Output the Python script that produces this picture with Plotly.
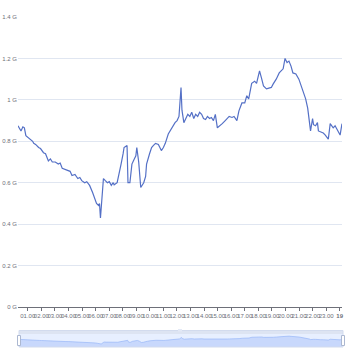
import plotly.graph_objects as go

# Monthly-ish readings (decimal year) and values in G
years = [
    2000.28, 2000.50, 2000.64, 2000.75, 2000.86, 2001.00, 2001.22, 2001.36, 2001.44, 2001.58,
    2001.80, 2001.94, 2002.16, 2002.31, 2002.52, 2002.67, 2002.81, 2003.03, 2003.25, 2003.39,
    2003.54, 2003.75, 2003.97, 2004.12, 2004.26, 2004.48, 2004.69, 2004.84, 2004.98, 2005.20,
    2005.35, 2005.56, 2005.78, 2005.93, 2006.07, 2006.22, 2006.29, 2006.36, 2006.51, 2006.58,
    2006.72, 2006.87, 2007.01, 2007.16, 2007.30, 2007.37, 2007.59, 2007.74, 2007.88, 2008.03,
    2008.10, 2008.32, 2008.39, 2008.53, 2008.68, 2008.82, 2008.97, 2009.04, 2009.18, 2009.33,
    2009.47, 2009.55, 2009.69, 2009.76, 2009.98, 2010.13, 2010.27, 2010.42, 2010.63, 2010.78,
    2010.85, 2011.00, 2011.14, 2011.36, 2011.57, 2011.72, 2011.86, 2012.01, 2012.15, 2012.30,
    2012.37, 2012.51, 2012.66, 2012.80, 2012.95, 2013.09, 2013.24, 2013.38, 2013.53, 2013.67,
    2013.82, 2013.96, 2014.11, 2014.25, 2014.40, 2014.54, 2014.69, 2014.83, 2014.98, 2015.19,
    2015.34, 2015.56, 2015.70, 2015.85, 2016.06, 2016.21, 2016.42, 2016.57, 2016.79, 2017.00,
    2017.15, 2017.29, 2017.51, 2017.73, 2017.87, 2018.09, 2018.23, 2018.38, 2018.60, 2018.81,
    2018.96, 2019.10, 2019.32, 2019.54, 2019.68, 2019.83, 2019.97, 2020.12, 2020.26, 2020.41,
    2020.55, 2020.77, 2020.99, 2021.13, 2021.27, 2021.49, 2021.64, 2021.78, 2021.85, 2022.00,
    2022.07, 2022.22, 2022.36, 2022.43, 2022.58, 2022.79, 2022.94, 2023.08, 2023.16, 2023.30,
    2023.45, 2023.52, 2023.66, 2023.88, 2024.03, 2024.17,
]
values_g = [
    0.875, 0.850, 0.870, 0.865, 0.827, 0.820, 0.810, 0.800, 0.790, 0.785,
    0.770, 0.765, 0.745, 0.740, 0.705, 0.715, 0.700, 0.700, 0.690, 0.695,
    0.670, 0.665, 0.660, 0.655, 0.635, 0.640, 0.620, 0.625, 0.610, 0.600,
    0.605, 0.587, 0.553, 0.530, 0.500, 0.490, 0.500, 0.430, 0.570, 0.620,
    0.610, 0.600, 0.605, 0.587, 0.600, 0.590, 0.600, 0.640, 0.690, 0.740,
    0.770, 0.780, 0.600, 0.600, 0.690, 0.710, 0.730, 0.770, 0.700, 0.577,
    0.590, 0.600, 0.630, 0.690, 0.740, 0.770, 0.780, 0.790, 0.785, 0.760,
    0.755, 0.770, 0.790, 0.835, 0.860, 0.875, 0.890, 0.900, 0.920, 1.060,
    0.950, 0.890, 0.910, 0.930, 0.920, 0.940, 0.910, 0.930, 0.920, 0.940,
    0.930, 0.910, 0.905, 0.920, 0.910, 0.915, 0.900, 0.930, 0.865, 0.875,
    0.885, 0.900, 0.910, 0.920, 0.915, 0.920, 0.900, 0.947, 0.985, 0.985,
    1.020, 1.005, 1.080, 1.090, 1.080, 1.140, 1.106, 1.067, 1.053, 1.058,
    1.060, 1.077, 1.100, 1.130, 1.140, 1.150, 1.200, 1.180, 1.187, 1.163,
    1.130, 1.125, 1.100, 1.070, 1.043, 1.005, 0.960, 0.900, 0.850, 0.910,
    0.880, 0.875, 0.890, 0.850, 0.845, 0.840, 0.830, 0.820, 0.810, 0.885,
    0.870, 0.865, 0.875, 0.850, 0.830, 0.885,
]

x_tick_vals = list(range(2001, 2025))
x_tick_text = ["%02d.00" % (v - 2000) for v in range(2001, 2024)] + ["<b>19</b>"]
y_tick_vals = [0, 0.2, 0.4, 0.6, 0.8, 1.0, 1.2, 1.4]
y_tick_text = ["0 G", "0.2 G", "0.4 G", "0.6 G", "0.8 G", "1 G", "1.2 G", "1.4 G"]

W, H = 350, 350
ML, MR, MT, MB = 18, 8, 17, 3
PW, PH = W - ML - MR, H - MT - MB


def px_x(p):
    return (p - ML) / PW


def px_y(p):
    return (H - MB - p) / PH


axis_grey = "#6e7079"
font = dict(family="Liberation Sans, sans-serif", size=6, color=axis_grey)

fig = go.Figure()
fig.add_trace(go.Scatter(
    x=years, y=values_g, mode="lines",
    line=dict(color="#5470c6", width=1.2),
    xaxis="x", yaxis="y", hoverinfo="skip", showlegend=False,
))
# miniature of the series inside the zoom slider
fig.add_trace(go.Scatter(
    x=years, y=values_g, mode="lines", fill="tozeroy",
    line=dict(color="#8fb0f7", width=0.6),
    fillcolor="rgba(143,176,247,0.35)",
    xaxis="x2", yaxis="y2", hoverinfo="skip", showlegend=False,
))

SL, SR = ML + 1, W - MR + 1  # slider left / right edges in pixels
shapes = [
    # slider body
    dict(type="rect", xref="paper", yref="paper",
         x0=px_x(SL), x1=px_x(SR), y0=px_y(347), y1=px_y(334),
         fillcolor="rgba(135,175,255,0.2)", line=dict(width=0), layer="below"),
    # move handle strip
    dict(type="rect", xref="paper", yref="paper",
         x0=px_x(SL), x1=px_x(SR), y0=px_y(334), y1=px_y(330.5),
         fillcolor="rgba(210,219,238,0.75)", line=dict(width=0), layer="below"),
    # slider border
    dict(type="rect", xref="paper", yref="paper",
         x0=px_x(SL), x1=px_x(SR), y0=px_y(347), y1=px_y(330.5),
         fillcolor="rgba(0,0,0,0)", line=dict(color="#d2dbee", width=1)),
    # centre grip of the move handle
    dict(type="rect", xref="paper", yref="paper",
         x0=0.5 - 2 / PW, x1=0.5 + 2 / PW, y0=px_y(331.5), y1=px_y(329),
         fillcolor="#e3e9f6", line=dict(width=0)),
    # end handles
    dict(type="rect", xref="paper", yref="paper",
         x0=px_x(SL - 1.5), x1=px_x(SL + 1.5), y0=px_y(345.5), y1=px_y(335.5),
         fillcolor="#ffffff", line=dict(color="#acb8d1", width=1)),
    dict(type="rect", xref="paper", yref="paper",
         x0=px_x(SR - 1.5), x1=px_x(SR + 1.5), y0=px_y(345.5), y1=px_y(335.5),
         fillcolor="#ffffff", line=dict(color="#acb8d1", width=1)),
]

fig.update_layout(
    width=W, height=H,
    margin=dict(l=ML, r=MR, t=MT, b=MB, pad=0),
    paper_bgcolor="#ffffff", plot_bgcolor="rgba(0,0,0,0)",
    font=font,
    showlegend=False,
    shapes=shapes,
    xaxis=dict(
        domain=[0, 1], anchor="y", range=[years[0], years[-1]],
        tickmode="array", tickvals=x_tick_vals, ticktext=x_tick_text,
        showgrid=False, zeroline=False, showline=True, linecolor=axis_grey, linewidth=1,
        ticks="outside", ticklen=3, tickcolor=axis_grey, tickwidth=1,
        tickfont=font, tickangle=0, automargin=False,
    ),
    yaxis=dict(
        domain=[px_y(307), 1], anchor="x", range=[0, 1.4],
        tickmode="array", tickvals=y_tick_vals, ticktext=y_tick_text,
        showgrid=True, gridcolor="#e0e6f1", gridwidth=1,
        zeroline=False, showline=False, ticks="",
        tickfont=font, automargin=False,
    ),
    xaxis2=dict(domain=[px_x(SL), 1], anchor="y2", range=[years[0], years[-1]], visible=False),
    yaxis2=dict(domain=[0, px_y(331)], anchor="x2", range=[0.14, 1.68], visible=False),
)

fig.write_html("out.html")
